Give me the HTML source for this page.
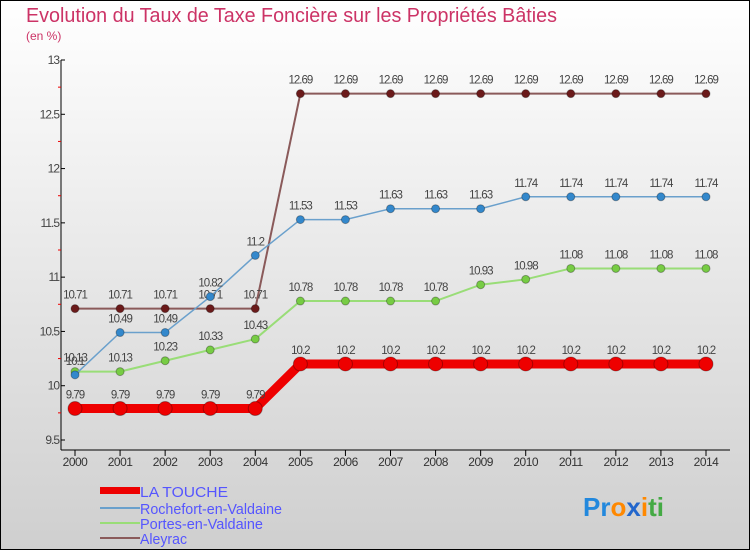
<!DOCTYPE html>
<html><head><meta charset="utf-8"><style>
body{margin:0;width:750px;height:550px;overflow:hidden;font-family:"Liberation Sans",sans-serif}
</style></head><body>
<svg id="c" width="750" height="550" xmlns="http://www.w3.org/2000/svg">
<defs><linearGradient id="bg" x1="0" y1="0" x2="0" y2="1"><stop offset="0" stop-color="#ffffff"/><stop offset="1" stop-color="#cfcfcf"/></linearGradient></defs>
<rect x="0.5" y="0.5" width="749" height="549" fill="url(#bg)" stroke="#000"/>
<text x="26" y="22" font-size="20" fill="#cc3366" textLength="531" lengthAdjust="spacingAndGlyphs">Evolution du Taux de Taxe Foncière sur les Propriétés Bâties</text>
<text x="26" y="40" font-size="12" fill="#cc3366">(en %)</text>
<g id="axes"></g><g id="series"></g>
<g font-size="15" fill="#5555ff">
<rect x="100" y="487" width="40" height="7" fill="#ee0000"/>
<text x="140" y="497" textLength="88" lengthAdjust="spacingAndGlyphs">LA TOUCHE</text>
<rect x="100" y="507" width="40" height="2" fill="#6aa0cc"/>
<text x="140" y="514" textLength="142" lengthAdjust="spacingAndGlyphs">Rochefort-en-Valdaine</text>
<rect x="100" y="522" width="40" height="2" fill="#99dd77"/>
<text x="140" y="529" textLength="123" lengthAdjust="spacingAndGlyphs">Portes-en-Valdaine</text>
<rect x="100" y="537" width="40" height="2" fill="#8a5a5a"/>
<text x="140" y="544" textLength="47" lengthAdjust="spacingAndGlyphs">Aleyrac</text>
</g>
<text x="583" y="516" font-size="26" font-weight="bold"><tspan fill="#2288dd">Pr</tspan><tspan fill="#ff8800">o</tspan><tspan fill="#2266cc">x</tspan><tspan fill="#ff8800">i</tspan><tspan fill="#44aa44">ti</tspan></text>
</svg>
<script>
const years=[2000,2001,2002,2003,2004,2005,2006,2007,2008,2009,2010,2011,2012,2013,2014];
const yTicks=[9.5,10,10.5,11,11.5,12,12.5,13];
const laTouche=[9.79,9.79,9.79,9.79,9.79,10.2,10.2,10.2,10.2,10.2,10.2,10.2,10.2,10.2,10.2];
const rochefort=[10.1,10.49,10.49,10.82,11.2,11.53,11.53,11.63,11.63,11.63,11.74,11.74,11.74,11.74,11.74];
const portes=[10.13,10.13,10.23,10.33,10.43,10.78,10.78,10.78,10.78,10.93,10.98,11.08,11.08,11.08,11.08];
const aleyrac=[10.71,10.71,10.71,10.71,10.71,12.69,12.69,12.69,12.69,12.69,12.69,12.69,12.69,12.69,12.69];
const NS="http://www.w3.org/2000/svg";
const X=i=>75+i*(706-75)/(years.length-1);
const Y=v=>440-(v-9.5)*(380/3.5);
function mk(t,a,p){const e=document.createElementNS(NS,t);for(const k in a)e.setAttribute(k,a[k]);p.appendChild(e);return e;}
const ax=document.getElementById('axes');
let e=mk('line',{x1:61,y1:60,x2:61,y2:450,stroke:'#000'},ax);


e=mk('line',{x1:61,y1:450,x2:730,y2:450,stroke:'#000'},ax);


yTicks.forEach((v,i)=>{mk('line',{x1:61,y1:Y(v),x2:65,y2:Y(v),stroke:'#000'},ax);
 if(i<yTicks.length-1)mk('line',{x1:58,y1:Y(v+0.25),x2:61,y2:Y(v+0.25),stroke:'#e00'},ax);
 const t=mk('text',{x:59,y:Y(v)+4,'font-size':12,'text-anchor':'end',fill:'#444','letter-spacing':'-1'},ax);t.textContent=String(v);
 
 });
years.forEach((y,i)=>{mk('line',{x1:X(i),y1:450,x2:X(i),y2:456,stroke:'#000'},ax);
 const t=mk('text',{x:X(i),y:466,'font-size':12,'text-anchor':'middle',fill:'#333','letter-spacing':'-0.5'},ax);t.textContent=y;
 
 });
const sg=document.getElementById('series');
function series(d,name,col,dot,w,r){
 const g=mk('g',{},sg);
 
 
 mk('polyline',{points:d.map((v,i)=>X(i)+','+Y(v)).join(' '),fill:'none',stroke:col,'stroke-width':w},g);
 d.forEach((v,i)=>{const c=mk('circle',{cx:X(i),cy:Y(v),r:r,fill:dot,stroke:'rgba(0,0,0,0.3)'},g);
  
  
  const t=mk('text',{x:X(i),y:Y(v)-10,'font-size':11.5,'text-anchor':'middle',fill:'#444','letter-spacing':'-1'},g);t.textContent=String(v);
  
  });
}
series(aleyrac,'series-aleyrac','#8a5a5a','#6b1a1a',2,4);
series(portes,'series-portes','#99dd77','#77cc44',2,4);
series(rochefort,'series-rochefort','#6aa0cc','#3388cc',1.5,4);
series(laTouche,'series-la-touche','#ee0000','#ee0000',9,7);
</script>
</body></html>
